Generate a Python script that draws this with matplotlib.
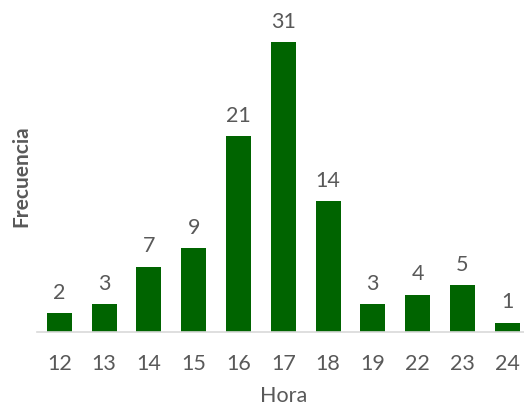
import matplotlib.pyplot as plt

horas = ["12", "13", "14", "15", "16", "17", "18", "19", "22", "23", "24"]
frecuencia = [2, 3, 7, 9, 21, 31, 14, 3, 4, 5, 1]

plt.rcParams['font.family'] = ['Lato', 'DejaVu Sans']
gris = "#595959"

fig = plt.figure(figsize=(5.24, 4.06), dpi=100)
ax = fig.add_axes([0.0706, 0.18, 0.94, 0.771])

x = range(len(horas))
barras = ax.bar(x, frecuencia, width=0.56, color="#006400")

for xi, v in zip(x, frecuencia):
    ax.annotate(str(v), (xi, v), xytext=(0, 8), textcoords="offset points",
                ha="center", va="bottom", fontsize=15.5, color=gris)

ax.set_xlim(-0.5, len(horas) - 0.5)
ax.set_ylim(0, 33.5)
ax.set_xticks(list(x))
ax.set_xticklabels(horas, fontsize=15.5, color=gris)
ax.tick_params(axis="x", length=0, pad=15)
ax.set_yticks([])

for lado in ["top", "right", "left"]:
    ax.spines[lado].set_visible(False)
ax.spines["bottom"].set_color("#d9d9d9")
ax.spines["bottom"].set_linewidth(1.2)

ax.set_xlabel("Hora", fontsize=15.5, color=gris, labelpad=9)
ax.set_ylabel("Frecuencia", fontsize=15, color=gris, fontweight="bold", labelpad=4)

fig.savefig("out.png", dpi=100)
